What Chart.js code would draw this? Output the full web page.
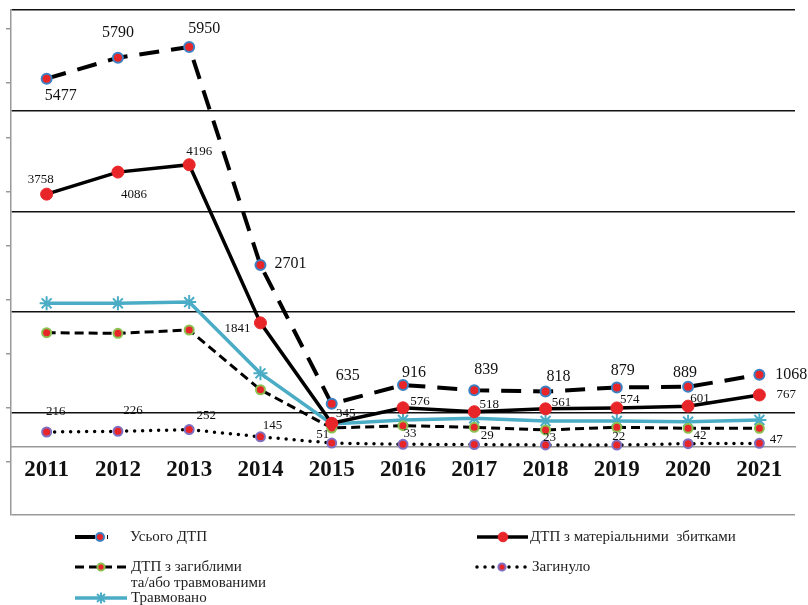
<!DOCTYPE html>
<html>
<head>
<meta charset="utf-8">
<script src="https://cdn.jsdelivr.net/npm/chart.js@4"></script>
<style>
  body { margin: 0; background: #fff; }
  #wrap { width: 808px; height: 605px; position: relative; }
</style>
</head>
<body>
<div id="wrap"><canvas id="dtpChart"></canvas></div>
<script>
// years on the x axis
const years = ["2011", "2012", "2013", "2014", "2015", "2016", "2017", "2018", "2019", "2020", "2021"];

// series
const totalDtp   = [5477, 5790, 5950, 2701, 635, 916, 839, 818, 879, 889, 1068];
const damageDtp  = [3758, 4086, 4196, 1841, 345, 576, 518, 561, 574, 601, 767];
const injuryDtp  = [1695, 1685, 1735, 845, 275, 310, 286, 246, 286, 271, 271];
const killed     = [216, 226, 252, 145, 51, 33, 29, 23, 22, 42, 47];
const injured    = [2132, 2132, 2150, 1090, 335, 395, 420, 380, 380, 370, 395];

// y axis: black grid lines, small tick marks on the left edge
const yMin = -1020;
const yMax = 6500;
const majorLines = [500, 2000, 3500, 5000, 6500];
const minorTicks = [-225, 580, 1385, 2190, 2995, 3800, 4605, 5410, 6215];

// where each value label sits next to its point
const totalLabelPos = [[14, 17], [0, -25], [15, -18], [30, -1], [16, -28], [11, -12], [12, -20], [13, -15], [6, -17], [-3, -14], [32, 0]];
const damageLabelPos = [[-6, -15], [16, 22], [10, -13], [-23, 6], [14, -10], [17, -6], [15, -7], [16, -6], [13, -8], [12, -8], [27, 0]];
const killedLabelPos = [[9, -20], [15, -21], [17, -14], [12, -11], [-9, -8], [7, -11], [13, -9], [4, -7], [2, -8], [12, -8], [17, -4]];

const RED = "#e8262a";

const valueLabels = {
  id: "valueLabels",
  afterDatasetsDraw(chart) {
    const ctx = chart.ctx;
    ctx.save();
    ctx.fillStyle = "#111";
    ctx.textAlign = "center";
    ctx.textBaseline = "middle";
    chart.data.datasets.forEach((ds, i) => {
      if (!ds.labelPos) return;
      const meta = chart.getDatasetMeta(i);
      ctx.font = ds.labelFont;
      meta.data.forEach((pt, j) => {
        const [dx, dy] = ds.labelPos[j];
        ctx.fillText(String(ds.data[j]), pt.x + dx, pt.y + dy);
      });
    });
    ctx.restore();
  }
};

// legend below the plot, two columns
const legendSpots = [
  { x: 75, w: 33, mark: 100, tx: 130, y: 537, text: ["Усього ДТП"] },
  { x: 477, w: 51, mark: 503, tx: 530, y: 537, text: ["ДТП з матеріальними  збитками"] },
  { x: 75, w: 52, mark: 101, tx: 131, y: 567, text: ["ДТП з загиблими", "та/або травмованими"] },
  { x: 477, w: 50, mark: 502, tx: 532, y: 567, text: ["Загинуло"] },
  { x: 75, w: 52, mark: 101, tx: 131, y: 598, text: ["Травмовано"] }
];

const bottomLegend = {
  id: "bottomLegend",
  afterDraw(chart) {
    const ctx = chart.ctx;
    chart.data.datasets.forEach((ds, i) => {
      const s = legendSpots[i];
      ctx.save();
      ctx.strokeStyle = ds.borderColor;
      ctx.lineWidth = ds.borderWidth;
      ctx.lineCap = ds.borderCapStyle || "butt";
      ctx.setLineDash(ds.borderDash || []);
      ctx.beginPath();
      ctx.moveTo(s.x, s.y);
      ctx.lineTo(s.x + s.w, s.y);
      ctx.stroke();
      ctx.setLineDash([]);
      ctx.fillStyle = ds.pointBackgroundColor;
      ctx.strokeStyle = ds.pointBorderColor;
      ctx.lineWidth = ds.pointBorderWidth;
      Chart.helpers.drawPoint(ctx, {
        pointStyle: ds.pointStyle || "circle",
        radius: ds.pointRadius * 0.8,
        rotation: 0,
        borderWidth: ds.pointBorderWidth
      }, s.mark, s.y);
      ctx.fillStyle = "#222";
      ctx.font = "15px 'Liberation Serif'";
      ctx.textAlign = "left";
      ctx.textBaseline = "middle";
      s.text.forEach((t, k) => ctx.fillText(t, s.tx, s.y + k * 16));
      ctx.restore();
    });
  }
};

new Chart(document.getElementById("dtpChart"), {
  type: "line",
  data: {
    labels: years,
    datasets: [
      {
        label: "Усього ДТП",
        data: totalDtp,
        borderColor: "#000",
        borderWidth: 4,
        borderDash: [20, 12],
        pointRadius: 5,
        pointBackgroundColor: RED,
        pointBorderColor: "#3b82c4",
        pointBorderWidth: 2,
        labelPos: totalLabelPos,
        labelFont: "16px 'Liberation Serif'"
      },
      {
        label: "ДТП з матеріальними збитками",
        data: damageDtp,
        borderColor: "#000",
        borderWidth: 3.5,
        pointRadius: 6,
        pointBackgroundColor: RED,
        pointBorderColor: RED,
        pointBorderWidth: 1,
        labelPos: damageLabelPos,
        labelFont: "13px 'Liberation Serif'"
      },
      {
        label: "ДТП з загиблими та/або травмованими",
        data: injuryDtp,
        borderColor: "#000",
        borderWidth: 3,
        borderDash: [9, 5],
        pointRadius: 4.5,
        pointBackgroundColor: RED,
        pointBorderColor: "#8cc152",
        pointBorderWidth: 2
      },
      {
        label: "Загинуло",
        data: killed,
        borderColor: "#000",
        borderWidth: 3.5,
        borderDash: [0, 8],
        borderCapStyle: "round",
        pointRadius: 4.5,
        pointBackgroundColor: RED,
        pointBorderColor: "#7f6fc0",
        pointBorderWidth: 2,
        labelPos: killedLabelPos,
        labelFont: "13px 'Liberation Serif'"
      },
      {
        label: "Травмовано",
        data: injured,
        borderColor: "#4bacc6",
        borderWidth: 3.5,
        pointStyle: "star",
        pointRadius: 7,
        pointBackgroundColor: "#4bacc6",
        pointBorderColor: "#4bacc6",
        pointBorderWidth: 2
      }
    ]
  },
  options: {
    responsive: true,
    maintainAspectRatio: false,
    animation: false,
    layout: { padding: { left: 6, right: 13, top: 10, bottom: 90 } },
    plugins: {
      legend: { display: false },
      tooltip: { enabled: false }
    },
    scales: {
      x: {
        position: { y: 0 },
        offset: true,
        grid: { display: false, drawTicks: false },
        border: { display: true, color: "#999", width: 1.5 },
        ticks: {
          color: "#111",
          font: { family: "'Liberation Serif'", size: 23, weight: "bold" },
          padding: 10,
          maxRotation: 0,
          autoSkip: false
        }
      },
      y: {
        min: yMin,
        max: yMax,
        afterBuildTicks(scale) {
          scale.ticks = [yMin].concat(minorTicks, majorLines)
            .sort((a, b) => a - b)
            .map(v => ({ value: v }));
        },
        border: { display: true, color: "#999", width: 1.5 },
        grid: {
          drawTicks: true,
          tickLength: 5,
          color: c => {
            const v = c.tick && c.tick.value;
            if (majorLines.includes(v)) return "#111";
            if (v === yMin) return "#999";
            return "rgba(0,0,0,0)";
          },
          lineWidth: c => (c.tick && majorLines.includes(c.tick.value)) ? 1.6 : 1.5,
          tickColor: c => (c.tick && minorTicks.includes(c.tick.value)) ? "#999" : "rgba(0,0,0,0)"
        },
        ticks: { display: false }
      }
    }
  },
  plugins: [valueLabels, bottomLegend]
});
</script>
</body>
</html>
